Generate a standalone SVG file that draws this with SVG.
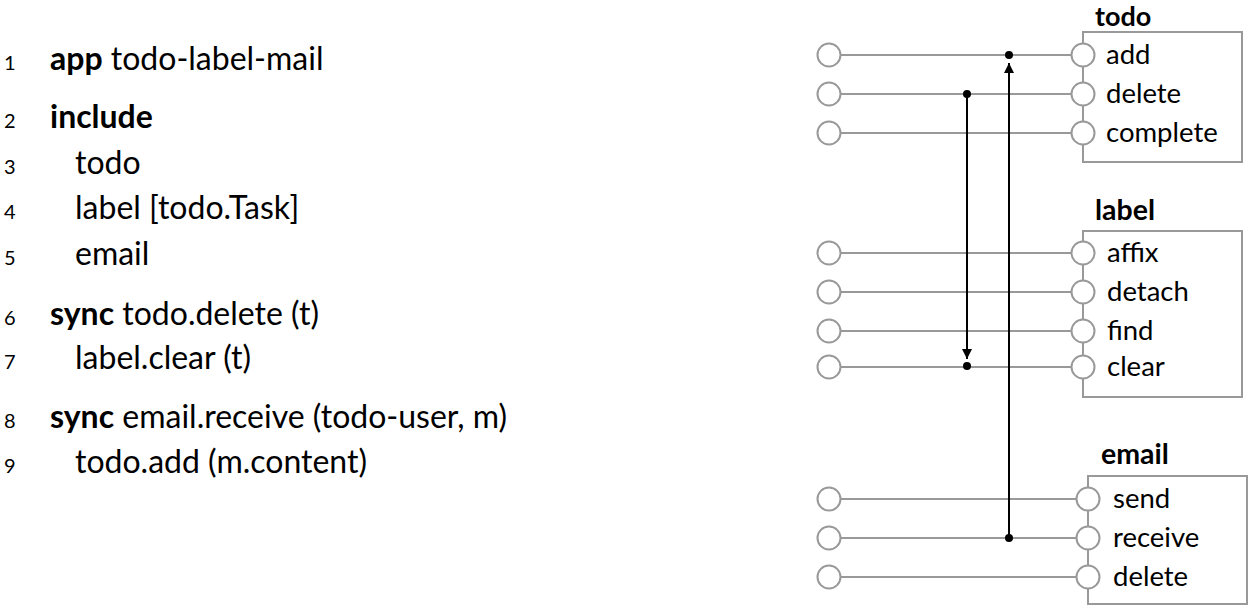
<svg xmlns="http://www.w3.org/2000/svg" width="1249" height="607" viewBox="0 0 1249 607">
<style>
text{font-family:Lato,"Open Sans","Liberation Sans",sans-serif;fill:#000}
.num{font-size:20px}
.code{font-size:32px}
.b{font-weight:bold}
.title{font-size:28.5px;font-weight:bold}
.t0{font-size:27px}
.act{font-size:27.5px}
.box{fill:none;stroke:#999;stroke-width:2}
.port{fill:#fff;stroke:#999;stroke-width:2}
.wire{stroke:#999;stroke-width:2;fill:none}
.sync{stroke:#000;stroke-width:2;fill:none}
.dot{fill:#000}
</style>
<defs>
<marker id="ah" viewBox="0 0 10 10" refX="10" refY="5" markerWidth="5.5" markerHeight="5" orient="auto" markerUnits="strokeWidth">
<path d="M0,0 L10,5 L0,10 z" fill="#000"/>
</marker>
</defs>
<g id="code">
<text class="num" x="4" y="70">1</text><text class="code" x="50" y="70"><tspan class="b">app</tspan> todo-label-mail</text>
<text class="num" x="4" y="128">2</text><text class="code b" x="50" y="128">include</text>
<text class="num" x="4" y="174">3</text><text class="code" x="75" y="174">todo</text>
<text class="num" x="4" y="219">4</text><text class="code" x="75" y="219">label [todo.Task]</text>
<text class="num" x="4" y="265">5</text><text class="code" x="75" y="265">email</text>
<text class="num" x="4" y="325">6</text><text class="code" x="50" y="325"><tspan class="b">sync</tspan> todo.delete (t)</text>
<text class="num" x="4" y="369">7</text><text class="code" x="75" y="369">label.clear (t)</text>
<text class="num" x="4" y="428">8</text><text class="code" x="50" y="428"><tspan class="b">sync</tspan> email.receive (todo-user, m)</text>
<text class="num" x="4" y="473">9</text><text class="code" x="75" y="473">todo.add (m.content)</text>
</g>
<g id="connectors">
<line class="wire" x1="841" y1="55" x2="1071" y2="55"/>
<line class="wire" x1="841" y1="94" x2="1071" y2="94"/>
<line class="wire" x1="841" y1="133" x2="1071" y2="133"/>
<line class="wire" x1="841" y1="253" x2="1071" y2="253"/>
<line class="wire" x1="841" y1="292" x2="1071" y2="292"/>
<line class="wire" x1="841" y1="331" x2="1071" y2="331"/>
<line class="wire" x1="841" y1="367" x2="1071" y2="367"/>
<line class="wire" x1="841" y1="499" x2="1076" y2="499"/>
<line class="wire" x1="841" y1="538" x2="1076" y2="538"/>
<line class="wire" x1="841" y1="577" x2="1076" y2="577"/>
<line class="sync" x1="967" y1="94" x2="967" y2="359" marker-end="url(#ah)"/>
<line class="sync" x1="1009" y1="538" x2="1009" y2="63" marker-end="url(#ah)"/>
<circle class="dot" cx="967" cy="94" r="4"/>
<circle class="dot" cx="967" cy="366" r="4"/>
<circle class="dot" cx="1009" cy="55" r="4"/>
<circle class="dot" cx="1009" cy="538" r="4"/>
</g>
<g id="outer-ports">
<circle class="port" cx="829" cy="55" r="11.5"/>
<circle class="port" cx="829" cy="94" r="11.5"/>
<circle class="port" cx="829" cy="133" r="11.5"/>
<circle class="port" cx="829" cy="253" r="11.5"/>
<circle class="port" cx="829" cy="292" r="11.5"/>
<circle class="port" cx="829" cy="331" r="11.5"/>
<circle class="port" cx="829" cy="367" r="11.5"/>
<circle class="port" cx="829" cy="499" r="11.5"/>
<circle class="port" cx="829" cy="538" r="11.5"/>
<circle class="port" cx="829" cy="577" r="11.5"/>
</g>
<g id="todo">
<text class="title t0" x="1095" y="26">todo</text>
<rect class="box" x="1083" y="32" width="159" height="130"/>
<circle class="port" cx="1083" cy="55" r="11.5"/>
<circle class="port" cx="1083" cy="94" r="11.5"/>
<circle class="port" cx="1083" cy="133" r="11.5"/>
<text class="act" x="1106" y="64">add</text>
<text class="act" x="1106" y="103">delete</text>
<text class="act" x="1106" y="142">complete</text>
</g>
<g id="label">
<text class="title" x="1095" y="220">label</text>
<rect class="box" x="1083" y="231" width="159" height="166"/>
<circle class="port" cx="1083" cy="253" r="11.5"/>
<circle class="port" cx="1083" cy="292" r="11.5"/>
<circle class="port" cx="1083" cy="331" r="11.5"/>
<circle class="port" cx="1083" cy="367" r="11.5"/>
<text class="act" x="1107" y="262">affix</text>
<text class="act" x="1107" y="301">detach</text>
<text class="act" x="1107" y="340">find</text>
<text class="act" x="1107" y="376">clear</text>
</g>
<g id="email">
<text class="title" x="1101" y="464">email</text>
<rect class="box" x="1088" y="476" width="159" height="128"/>
<circle class="port" cx="1088" cy="499" r="11.5"/>
<circle class="port" cx="1088" cy="538" r="11.5"/>
<circle class="port" cx="1088" cy="577" r="11.5"/>
<text class="act" x="1113" y="508">send</text>
<text class="act" x="1113" y="547">receive</text>
<text class="act" x="1113" y="586">delete</text>
</g>
</svg>
